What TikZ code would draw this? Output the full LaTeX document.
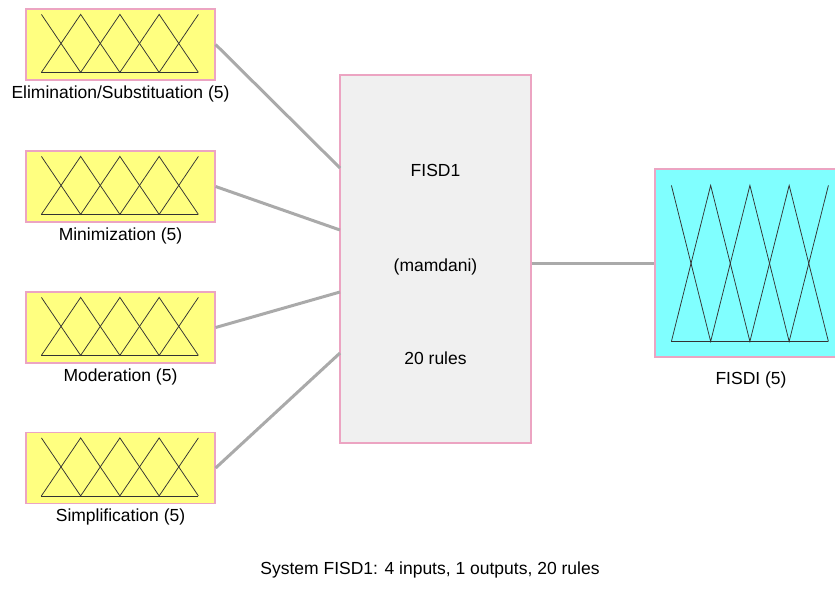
\documentclass[tikz,border=0pt]{standalone}
\usepackage{fontspec}
\setmainfont{Liberation Sans}
\definecolor{MfYellow}{RGB}{255,255,128}
\definecolor{MfCyan}{RGB}{128,255,255}
\definecolor{BoxPink}{RGB}{236,164,194}
\definecolor{BoxGrey}{RGB}{240,240,240}
\definecolor{LinkGrey}{RGB}{170,170,170}

\begin{document}
\begin{tikzpicture}[x=1pt,y=-1pt]
	\tikzstyle{every node}=[font=\fontsize{17.5}{20}\selectfont];
	\tikzstyle{inbox}=[draw=BoxPink, fill=MfYellow, line width=1.2pt, minimum width=189pt, minimum height=71pt, inner sep=0pt];
	\tikzstyle{fisbox}=[draw=BoxPink, fill=BoxGrey, line width=1.2pt, minimum width=191pt, minimum height=368pt, inner sep=0pt];
	\tikzstyle{outbox}=[draw=BoxPink, fill=MfCyan, line width=1.2pt, minimum width=191pt, minimum height=188pt, inner sep=0pt];
	\tikzstyle{link}=[draw=LinkGrey, line width=3pt];
	\tikzstyle{mf}=[draw=black!80, line width=0.75pt];
	\useasboundingbox (0,0) rectangle (835,590);
	\clip (0,0) rectangle (835,590);
	% inputs
	\node [inbox] (in1) at (120.5,44.5) {};
	\node [inbox] (in2) at (120.5,186.5) {};
	\node [inbox] (in3) at (120.5,327.5) {};
	\node [inbox] (in4) at (120.5,468) {};
	\node (t1) at (120.5,94) {Elimination/Substituation (5)};
	\node (t2) at (120.5,236) {Minimization (5)};
	\node (t3) at (120.5,377) {Moderation (5)};
	\node (t4) at (120.5,517) {Simplification (5)};
	\foreach \b in {in1,in2,in3,in4} {
		\begin{scope}[shift={(\b.north west)}]
			\draw[mf] (16,64) -- (173,64);
			\draw[mf] (16,6) -- (55.25,64) -- (94.5,6) -- (133.75,64) -- (173,6);
			\draw[mf] (16,64) -- (55.25,6) -- (94.5,64) -- (133.75,6) -- (173,64);
		\end{scope}
	}
	% system
	\node [fisbox] (fis) at (435.5,259) {};
	\node (f1) at (435.5,170) {FISD1};
	\node (f2) at (435.5,267) {(mamdani)};
	\node (f3) at (435.5,358) {20 rules};
	% output
	\node [outbox] (out) at (750.5,263) {};
	\node (t5) at (751,380) {FISDI (5)};
	\begin{scope}[shift={(out.north west)}]
		\draw[mf] (17,173) -- (174,173);
		\draw[mf] (17,17) -- (56.25,173) -- (95.5,17) -- (134.75,173) -- (174,17);
		\draw[mf] (17,173) -- (56.25,17) -- (95.5,173) -- (134.75,17) -- (174,173);
	\end{scope}
	% connections
	\coordinate (c1) at (340,168);
	\coordinate (c2) at (340,230);
	\coordinate (c3) at (340,292);
	\coordinate (c4) at (340,353);
	\draw[link] (in1.east) -- (c1);
	\draw[link] (in2.east) -- (c2);
	\draw[link] (in3.east) -- (c3);
	\draw[link] (in4.east) -- (c4);
	\draw[link] (fis.east |- out.west) -- (out.west);
	\node (sys) at (430,570) {System FISD1: 4 inputs, 1 outputs, 20 rules};
\end{tikzpicture}
\end{document}
